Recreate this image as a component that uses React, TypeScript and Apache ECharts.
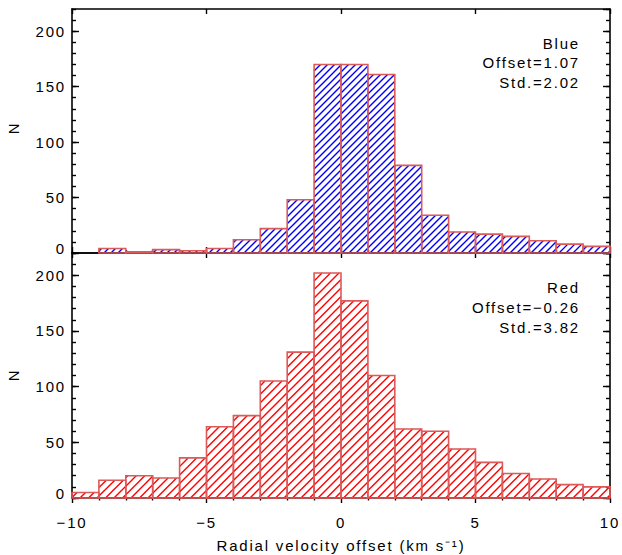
import React, { useEffect, useRef } from "react";
import * as echarts from "echarts";

// ---- data ----
const binStarts = [-10, -9, -8, -7, -6, -5, -4, -3, -2, -1, 0, 1, 2, 3, 4, 5, 6, 7, 8, 9];
const binWidth = 1;
const blueCounts = [0, 4, 1, 3, 2, 4, 12, 22, 48, 170, 170, 161, 79, 34, 19, 17, 15, 11, 8, 6];
const redCounts = [5, 16, 20, 18, 36, 64, 74, 105, 131, 202, 177, 110, 62, 60, 44, 32, 22, 17, 12, 10];
const blueNotes = ["Blue", "Offset=1.07", "Std.=2.02"];
const redNotes = ["Red", "Offset=\u22120.26", "Std.=3.82"];
const xMin = -10;
const xMax = 10;
const xInterval = 5;
const yMax = 220;
const yInterval = 50;
const yMinorInterval = 10;
const yAxisTitle = "N";
const xAxisTitle = "Radial velocity offset (km s\u207B\u00B9)";

const FONT = "Liberation Sans";
const AXIS_COLOR = "#000";
const OUTLINE = "#dc5a5a";

function makeRender(hatchColor: string, spacing: number) {
  return (params: any, api: any) => {
    const x0v = api.value(0);
    const x1v = api.value(1);
    const v = api.value(2);
    if (!v) return { type: "group", children: [] };
    const p0 = api.coord([x0v, v]);
    const p1 = api.coord([x1v, 0]);
    const left = p0[0];
    const top = p0[1];
    const right = p1[0];
    const bottom = p1[1];
    const children: any[] = [];
    const cStart = Math.ceil((left + top) / spacing) * spacing;
    for (let c = cStart; c <= right + bottom; c += spacing) {
      const xs = Math.max(left, c - bottom);
      const xe = Math.min(right, c - top);
      if (xe > xs) {
        children.push({
          type: "line",
          shape: { x1: xs, y1: c - xs, x2: xe, y2: c - xe },
          style: { stroke: hatchColor, lineWidth: 1.4 },
        });
      }
    }
    children.push({
      type: "rect",
      shape: { x: left, y: top, width: right - left, height: bottom - top },
      style: { fill: "none", stroke: OUTLINE, lineWidth: 1.6 },
    });
    return { type: "group", children };
  };
}

function xAxisDef(gridIndex: number, position: string, opts: any) {
  return {
    type: "value",
    gridIndex,
    position,
    min: xMin,
    max: xMax,
    interval: xInterval,
    axisLine: { show: true, onZero: false, lineStyle: { color: AXIS_COLOR, width: 1.6 } },
    splitLine: { show: false },
    ...opts,
  };
}

function yAxisDefs(gridIndex: number) {
  const base = {
    type: "value",
    gridIndex,
    min: 0,
    max: yMax,
    splitLine: { show: false },
  };
  const tickStyle = { color: AXIS_COLOR, width: 1.4 };
  const label = {
    show: true,
    color: "#000",
    fontFamily: FONT,
    fontSize: 15,
    margin: 6,
    showMaxLabel: false,
    formatter: (v: number) => (v === 0 ? "{z|0}" : String(v)),
    rich: { z: { fontFamily: FONT, fontSize: 15, color: "#000", padding: [0, 0, 10, 0] } },
  };
  return [
    {
      ...base,
      position: "left",
      interval: yInterval,
      axisLine: { show: true, onZero: false, lineStyle: { color: AXIS_COLOR, width: 1.6 } },
      axisTick: { show: true, inside: true, length: 7, lineStyle: tickStyle },
      axisLabel: label,
    },
    {
      ...base,
      position: "left",
      interval: yMinorInterval,
      axisLine: { show: false, onZero: false },
      axisTick: { show: true, inside: true, length: 4, lineStyle: tickStyle },
      axisLabel: { show: false },
    },
    {
      ...base,
      position: "right",
      interval: yInterval,
      axisLine: { show: true, onZero: false, lineStyle: { color: AXIS_COLOR, width: 1.6 } },
      axisTick: { show: true, inside: true, length: 7, lineStyle: tickStyle },
      axisLabel: { show: false },
    },
    {
      ...base,
      position: "right",
      interval: yMinorInterval,
      axisLine: { show: false, onZero: false },
      axisTick: { show: true, inside: true, length: 4, lineStyle: tickStyle },
      axisLabel: { show: false },
    },
  ];
}

function noteTexts(notes: string[], x: number, y0: number, step: number) {
  return notes.map((t, i) => ({
    type: "text",
    x,
    y: y0 + i * step,
    style: {
      text: t,
      fill: "#000",
      font: `15px "${FONT}"`,
      textAlign: "right",
      textVerticalAlign: "middle",
    },
  }));
}

export default function App() {
  const ref = useRef<HTMLDivElement>(null);
  useEffect(() => {
    if (!ref.current) return;
    const chart = echarts.init(ref.current, null, { renderer: "svg" });
    const blueData = binStarts.map((s, i) => [s, s + binWidth, blueCounts[i]]);
    const redData = binStarts.map((s, i) => [s, s + binWidth, redCounts[i]]);
    const tickStyle = { color: AXIS_COLOR, width: 1.4 };
    chart.setOption({
      animation: false,
      backgroundColor: "#fff",
      grid: [
        { left: 72, top: 9, width: 538, height: 244, containLabel: false },
        { left: 72, top: 253, width: 538, height: 245, containLabel: false },
      ],
      xAxis: [
        xAxisDef(0, "bottom", {
          axisTick: { show: true, inside: true, length: 6, lineStyle: tickStyle },
          minorTick: { show: true, splitNumber: 5, length: 3, lineStyle: tickStyle },
          axisLabel: { show: false },
        }),
        xAxisDef(0, "top", {
          axisTick: { show: true, inside: true, length: 5, lineStyle: tickStyle },
          axisLabel: { show: false },
        }),
        xAxisDef(1, "bottom", {
          axisTick: { show: true, inside: false, length: 5, lineStyle: tickStyle },
          minorTick: { show: true, splitNumber: 5, length: 2.5, lineStyle: tickStyle },
          axisLabel: {
            show: true,
            color: "#000",
            fontFamily: FONT,
            fontSize: 15,
            margin: 17,
            formatter: (v: number) => String(v).replace("-", "\u2212"),
          },
          name: xAxisTitle,
          nameLocation: "middle",
          nameGap: 40,
          nameTextStyle: { color: "#000", fontFamily: FONT, fontSize: 15 },
        }),
        xAxisDef(1, "top", {
          axisTick: { show: true, inside: true, length: 5, lineStyle: tickStyle },
          axisLabel: { show: false },
        }),
      ],
      yAxis: [...yAxisDefs(0), ...yAxisDefs(1)],
      series: [
        {
          type: "custom",
          xAxisIndex: 0,
          yAxisIndex: 0,
          data: blueData,
          encode: { x: [0, 1], y: 2 },
          renderItem: makeRender("#0000ff", 7),
          clip: false,
        },
        {
          type: "custom",
          xAxisIndex: 2,
          yAxisIndex: 4,
          data: redData,
          encode: { x: [0, 1], y: 2 },
          renderItem: makeRender("#ff0000", 8.5),
          clip: false,
        },
      ],
      graphic: [
        ...noteTexts(blueNotes, 580, 43, 19.5),
        ...noteTexts(redNotes, 580, 287, 20),
        {
          type: "text",
          x: 13,
          y: 128,
          rotation: Math.PI / 2,
          style: { text: yAxisTitle, fill: "#000", font: `15px "${FONT}"`, textAlign: "center", textVerticalAlign: "middle" },
        },
        {
          type: "text",
          x: 13,
          y: 375,
          rotation: Math.PI / 2,
          style: { text: yAxisTitle, fill: "#000", font: `15px "${FONT}"`, textAlign: "center", textVerticalAlign: "middle" },
        },
      ],
    });
    return () => chart.dispose();
  }, []);
  return (
    <>
      <style>{`.hist-chart svg text { letter-spacing: 1.8px; }`}</style>
      <div
        ref={ref}
        className="hist-chart"
        style={{ position: "fixed", left: 0, top: 0, width: 622, height: 555, background: "#fff" }}
      />
    </>
  );
}
